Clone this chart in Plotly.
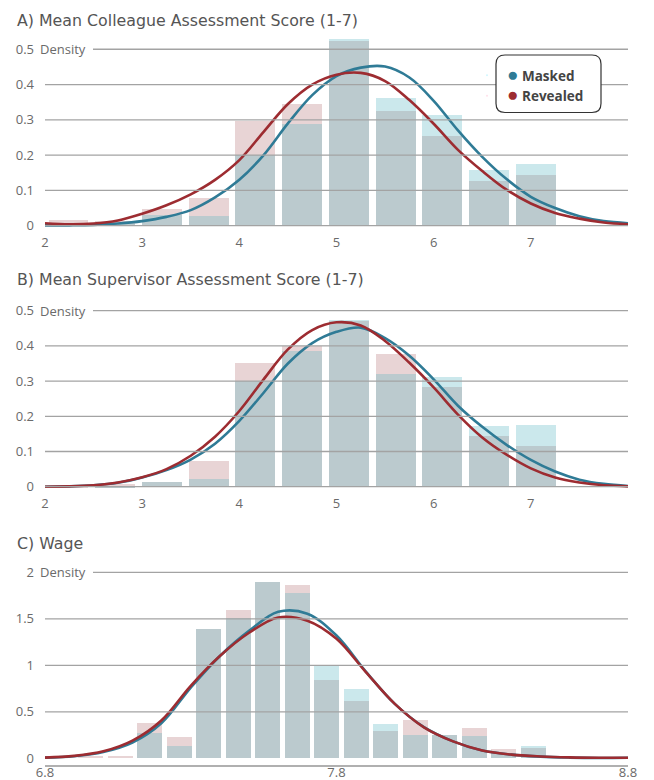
import plotly.graph_objects as go
import numpy as np

# ---------------- DATA ----------------
# Panels A and B: histogram bin centres (score 1-7)
ab_bin_centers = [2.241, 2.722, 3.203, 3.684, 4.165, 4.646, 5.127, 5.608, 6.089, 6.570, 7.051]
a_masked_bars = [0.0, 0.004, 0.030, 0.027, 0.200, 0.288, 0.529, 0.362, 0.314, 0.158, 0.175]
a_revealed_bars = [0.016, 0.012, 0.047, 0.078, 0.297, 0.345, 0.522, 0.325, 0.254, 0.127, 0.143]
b_masked_bars = [0.0, 0.003, 0.014, 0.022, 0.302, 0.386, 0.474, 0.320, 0.314, 0.173, 0.176]
b_revealed_bars = [0.002, 0.008, 0.014, 0.073, 0.354, 0.400, 0.473, 0.377, 0.284, 0.145, 0.116]

# density curves for panels A and B
ab_curve_x = [2.0, 2.25, 2.5, 2.75, 3.0, 3.25, 3.5, 3.75, 4.0, 4.25, 4.5, 4.75, 5.0,
              5.25, 5.5, 5.75, 6.0, 6.25, 6.5, 6.75, 7.0, 7.25, 7.5, 7.75, 8.0]
a_masked_curve = [0.001, 0.001, 0.002, 0.006, 0.013, 0.025, 0.044, 0.080, 0.130, 0.200, 0.290,
                  0.370, 0.424, 0.448, 0.451, 0.420, 0.354, 0.270, 0.195, 0.132, 0.082, 0.050,
                  0.027, 0.013, 0.007]
a_revealed_curve = [0.007, 0.004, 0.006, 0.015, 0.034, 0.058, 0.089, 0.130, 0.186, 0.266, 0.345,
                    0.400, 0.428, 0.433, 0.410, 0.356, 0.289, 0.215, 0.155, 0.102, 0.063, 0.036,
                    0.020, 0.009, 0.004]
b_masked_curve = [0.0, 0.001, 0.004, 0.011, 0.026, 0.047, 0.077, 0.122, 0.187, 0.267, 0.350,
                  0.408, 0.440, 0.452, 0.422, 0.372, 0.305, 0.230, 0.170, 0.119, 0.076, 0.043,
                  0.020, 0.008, 0.002]
b_revealed_curve = [0.0, 0.001, 0.004, 0.012, 0.027, 0.050, 0.088, 0.142, 0.215, 0.305, 0.390,
                    0.445, 0.467, 0.458, 0.414, 0.352, 0.282, 0.205, 0.140, 0.091, 0.052, 0.026,
                    0.012, 0.004, 0.001]

# Panel C: wage
c_bin_centers = [6.841, 6.957, 7.058, 7.160, 7.261, 7.362, 7.463, 7.564, 7.666, 7.767,
                 7.868, 7.969, 8.070, 8.172, 8.273, 8.374, 8.475]
c_masked_bars = [0.0, 0.0, 0.0, 0.272, 0.133, 1.391, 1.505, 1.898, 1.777, 0.996, 0.750,
                 0.372, 0.254, 0.255, 0.244, 0.060, 0.129]
c_revealed_bars = [0.025, 0.025, 0.025, 0.380, 0.231, 1.391, 1.595, 1.898, 1.864, 0.842,
                   0.620, 0.297, 0.415, 0.255, 0.330, 0.105, 0.115]

c_curve_x = [6.8, 6.9, 7.0, 7.1, 7.2, 7.3, 7.4, 7.5, 7.6, 7.7, 7.8, 7.9, 8.0, 8.1, 8.2,
             8.3, 8.4, 8.5, 8.6, 8.7, 8.8]
c_masked_curve = [0.008, 0.023, 0.068, 0.170, 0.380, 0.760, 1.100, 1.370, 1.575, 1.555, 1.320,
                  0.935, 0.585, 0.335, 0.182, 0.083, 0.040, 0.018, 0.008, 0.004, 0.006]
c_revealed_curve = [0.008, 0.026, 0.075, 0.190, 0.410, 0.780, 1.100, 1.350, 1.515, 1.480, 1.285,
                    0.930, 0.585, 0.333, 0.182, 0.085, 0.040, 0.020, 0.010, 0.006, 0.006]

titles = ["A) Mean Colleague Assessment Score (1-7)",
          "B) Mean Supervisor Assessment Score (1-7)",
          "C) Wage"]
ab_xticks = [2, 3, 4, 5, 6, 7]
c_xticks = [6.8, 7.8, 8.8]
ab_yticks = [0, 0.1, 0.2, 0.3, 0.4, 0.5]
ab_yticklabels = ["0", "0.1", "0.2", "0.3", "0.4", "0.5"]
c_yticks = [0, 0.5, 1, 1.5, 2]
c_yticklabels = ["0", "0.5", "1", "1.5", "2"]
series_names = ["Masked", "Revealed"]

# ---------------- STYLE ----------------
W, H = 654, 780
ML, MR = 45, 26
PW = W - ML - MR
BLUE = "#2f7b96"
RED = "#9d2c31"
CYAN_BAR = "#cbe8ec"
PINK_BAR = "#e8d4d5"
GRAY_BAR = "#bbcace"
GRID = "#a3a3a3"
TICK = "#6a6a6a"
FONT = "Open Sans"
TITLE_FONT = "DejaVu Sans"


def ydom(bottom_px, top_px):
    return [1 - bottom_px / H, 1 - top_px / H]


panels = [
    dict(s="", bins=ab_bin_centers, bw=0.41, m=a_masked_bars, r=a_revealed_bars,
         cx=ab_curve_x, cm=a_masked_curve, cr=a_revealed_curve,
         xr=[2, 8], yr=[-0.004, 0.56], dom=ydom(227.1, 28.1),
         xt=ab_xticks, yt=ab_yticks, ytl=ab_yticklabels, title_y=20),
    dict(s="2", bins=ab_bin_centers, bw=0.41, m=b_masked_bars, r=b_revealed_bars,
         cx=ab_curve_x, cm=b_masked_curve, cr=b_revealed_curve,
         xr=[2, 8], yr=[-0.004, 0.56], dom=ydom(488.1, 289.6),
         xt=ab_xticks, yt=ab_yticks, ytl=ab_yticklabels, title_y=279),
    dict(s="3", bins=c_bin_centers, bw=0.0858, m=c_masked_bars, r=c_revealed_bars,
         cx=c_curve_x, cm=c_masked_curve, cr=c_revealed_curve,
         xr=[6.8, 8.8], yr=[-0.075, 2.1], dom=ydom(765.3, 563.0),
         xt=c_xticks, yt=c_yticks, ytl=c_yticklabels, title_y=543),
]

fig = go.Figure()
shapes = []
annotations = []
layout_axes = {}

for i, p in enumerate(panels):
    s = p["s"]
    xa, ya = "x" + s, "y" + s
    overlap = np.minimum(p["m"], p["r"])
    fig.add_trace(go.Bar(x=p["bins"], y=p["m"], width=p["bw"], marker_color=CYAN_BAR,
                         marker_line_width=0, xaxis=xa, yaxis=ya, showlegend=False))
    fig.add_trace(go.Bar(x=p["bins"], y=p["r"], width=p["bw"], marker_color=PINK_BAR,
                         marker_line_width=0, xaxis=xa, yaxis=ya, showlegend=False))
    fig.add_trace(go.Bar(x=p["bins"], y=overlap, width=p["bw"], marker_color=GRAY_BAR,
                         marker_line_width=0, xaxis=xa, yaxis=ya, showlegend=False))
    fig.add_trace(go.Scatter(x=p["cx"], y=p["cm"], mode="lines", line=dict(color=BLUE, width=2.6, shape="spline"),
                             xaxis=xa, yaxis=ya, showlegend=False, name=series_names[0]))
    fig.add_trace(go.Scatter(x=p["cx"], y=p["cr"], mode="lines", line=dict(color=RED, width=2.6, shape="spline"),
                             xaxis=xa, yaxis=ya, showlegend=False, name=series_names[1]))

    last = i == 2
    layout_axes["xaxis" + s] = dict(
        domain=[0, 1], range=p["xr"], anchor=ya, tickvals=p["xt"], automargin=False,
        showgrid=False, zeroline=False, showline=last, linecolor="#b0b0b0", linewidth=1.5,
        ticks="", ticklabelstandoff=6 if not last else -6,
        tickfont=dict(family=FONT, size=13, color=TICK), fixedrange=True)
    layout_axes["yaxis" + s] = dict(
        domain=p["dom"], range=p["yr"], anchor=xa, tickvals=p["yt"], ticktext=p["ytl"],
        automargin=False,
        showgrid=False, zeroline=False, showline=False, ticks="", ticklabelstandoff=10,
        tickfont=dict(family=FONT, size=13, color=TICK), fixedrange=True)

    # gridlines drawn above the bars
    gvals = p["yt"] if not last else p["yt"][1:]
    top = p["yt"][-1]
    for v in gvals:
        shapes.append(dict(type="line", xref=xa + " domain", yref=ya,
                           x0=(93 - ML) / PW if v == top else 0, x1=1, y0=v, y1=v,
                           line=dict(color=GRID, width=1.3), layer="above"))
    annotations.append(dict(text="Density", xref="paper", yref=ya, x=(38 - ML) / PW, y=top,
                            xanchor="left", yanchor="middle", showarrow=False,
                            font=dict(family=FONT, size=13, color=TICK)))
    annotations.append(dict(text=titles[i], xref="paper", yref="paper", x=(15 - ML) / PW,
                            y=1 - p["title_y"] / H, xanchor="left", yanchor="middle", showarrow=False,
                            font=dict(family=TITLE_FONT, size=15.8, color="#555555")))

# rounded legend box
x0, x1 = (496 - ML) / PW, (601 - ML) / PW
y1, y0 = 1 - 55 / H, 1 - 112.5 / H
rx, ry = 9 / PW, 9 / H
path = (f"M {x0+rx},{y1} L {x1-rx},{y1} Q {x1},{y1} {x1},{y1-ry} L {x1},{y0+ry} "
        f"Q {x1},{y0} {x1-rx},{y0} L {x0+rx},{y0} Q {x0},{y0} {x0},{y0+ry} "
        f"L {x0},{y1-ry} Q {x0},{y1} {x0+rx},{y1} Z")
shapes.append(dict(type="path", xref="paper", yref="paper", path=path,
                   fillcolor="white", line=dict(color="#333333", width=1.2), layer="above"))

# legend entries (dot glyph coloured in the label)
for name, col in zip(series_names, [BLUE, RED]):
    fig.add_trace(go.Scatter(x=[None], y=[None], mode="markers", marker=dict(size=1, opacity=0),
                             name=f"<span style='color:{col};font-size:19px'>●</span><b> {name}</b>",
                             xaxis="x", yaxis="y", showlegend=True))

fig.update_layout(
    width=W, height=H, margin=dict(l=ML, r=MR, t=0, b=0, autoexpand=False),
    paper_bgcolor="white", plot_bgcolor="white", barmode="overlay", bargap=0,
    font=dict(family=FONT, color=TICK),
    showlegend=True,
    legend=dict(x=(467 - ML) / PW, y=1 - 60 / H, xanchor="left", yanchor="top",
                bgcolor="rgba(0,0,0,0)", borderwidth=0, itemwidth=30,
                font=dict(family=FONT, size=13.5, color="#444444"),
                tracegroupgap=0),
    shapes=shapes, annotations=annotations,
    **layout_axes,
)

fig.write_html("out.html", config={"displayModeBar": False},
               post_script="document.body.style.margin='0px';")
